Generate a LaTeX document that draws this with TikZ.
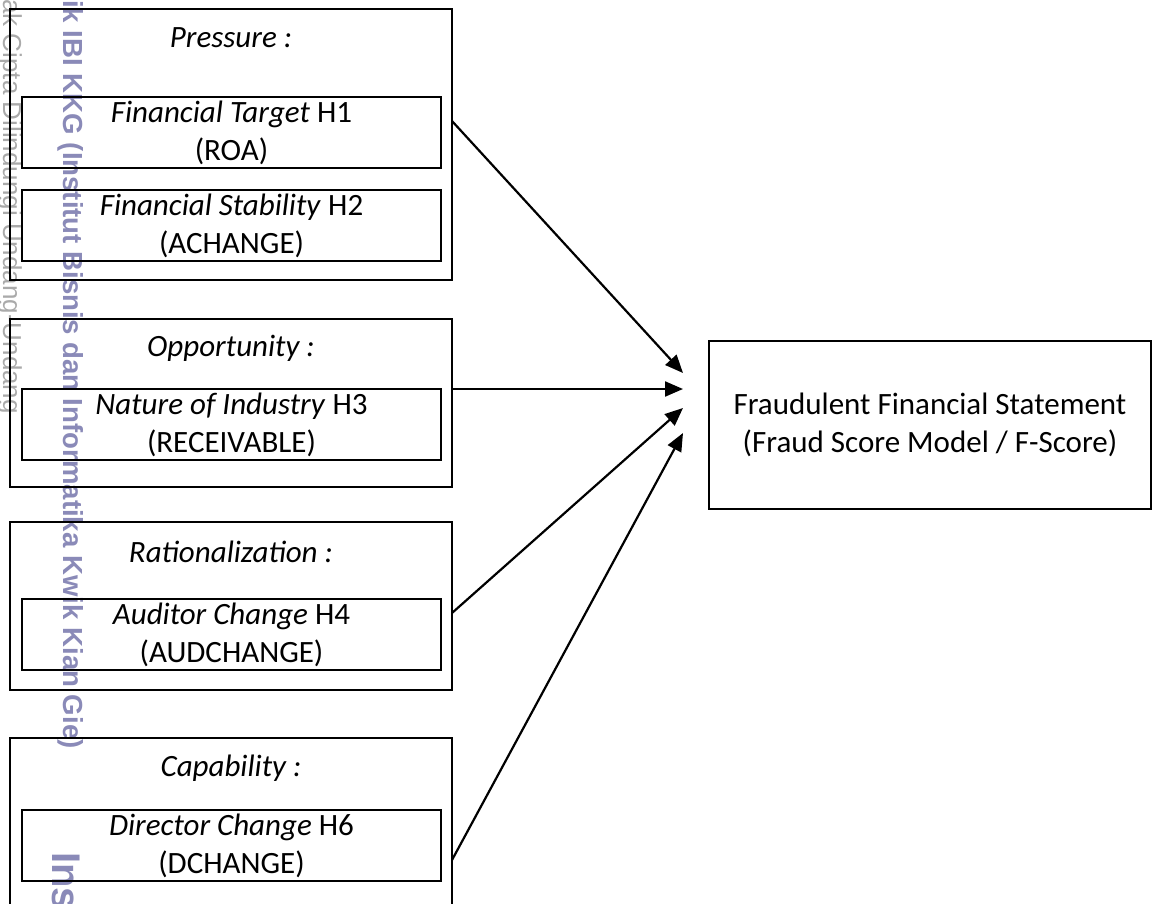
\documentclass[tikz,border=0pt]{standalone}
\usepackage{fontspec}
\setmainfont{Carlito}
\newfontfamily\wmfont{Liberation Sans}
\usetikzlibrary{arrows.meta}
\definecolor{wmpurple}{RGB}{138,138,184}
\definecolor{wmgray}{RGB}{170,170,170}
\begin{document}
\begin{tikzpicture}[x=1pt,y=-1pt,
  txt/.style={font=\fontsize{31}{38}\selectfont, align=center, inner sep=0pt},
  group/.style={draw, line width=2.1pt, rectangle, inner sep=0pt, outer sep=0pt,
    anchor=north west, minimum width=442},
  title/.style={txt, font=\fontsize{31}{38}\selectfont\itshape},
  item/.style={txt, draw, line width=2.1pt, rectangle, outer sep=0pt,
    anchor=north west, minimum width=419, minimum height=71},
  result/.style={txt, draw, line width=2.1pt, rectangle, outer sep=0pt,
    anchor=north west, minimum width=442, minimum height=168},
  link/.style={line width=2.2pt, -{Triangle[length=18pt,width=15pt]}},
  wm/.style={rotate=-90, anchor=base west, inner sep=0pt}]

\useasboundingbox (0,0) rectangle (1152,903);
\fill[white] (0,0) rectangle (1152,903);
\clip (0,0) rectangle (1152,903);

% watermark along the left margin
\node[wm, text=wmgray, font=\wmfont\fontsize{26}{30}\selectfont] (wm1) at (3,-1) {ak Cipta Dilindungi Undang-Undang};
\node[wm, text=wmpurple, font=\wmfont\bfseries\fontsize{27.6}{30}\selectfont] (wm2) at (63,0) {ik IBI KKG (Institut Bisnis dan Informatika Kwik Kian Gie)};
\node[wm, text=wmpurple, font=\wmfont\bfseries\fontsize{40}{44}\selectfont] (wm3) at (52,852) {Ins};

% Pressure
\node[group, minimum height=271] (P) at (10,9) {};
\node[title] (Pt) at (231,38) {Pressure :};
\node[item] (h1) at (22,97) {\textit{Financial Target} H1\\(ROA)};
\node[item] (h2) at (22,190) {\textit{Financial Stability} H2\\(ACHANGE)};

% Opportunity
\node[group, minimum height=168] (O) at (10,319) {};
\node[title] (Ot) at (231,348) {Opportunity :};
\node[item] (h3) at (22,389) {\textit{Nature of Industry} H3\\(RECEIVABLE)};

% Rationalization
\node[group, minimum height=168] (R) at (10,522) {};
\node[title] (Rt) at (231,552) {Rationalization :};
\node[item] (h4) at (22,599) {\textit{Auditor Change} H4\\(AUDCHANGE)};

% Capability
\node[group, minimum height=220] (C) at (10,738) {};
\node[title] (Ct) at (231,768) {Capability :};
\node[item] (h6) at (22,810) {\textit{Director Change} H6\\(DCHANGE)};

% dependent variable
\node[result] (F) at (709,341) {Fraudulent Financial Statement\\(Fraud Score Model / F-Score)};

% arrow end points
\coordinate (s1) at ([yshift=-112pt]P.north east);
\coordinate (s2) at ([yshift=-70pt]O.north east);
\coordinate (s3) at ([yshift=-91pt]R.north east);
\coordinate (s4) at ([yshift=-122pt]C.north east);
\coordinate (t1) at ([xshift=-26pt,yshift=52pt]F.west);
\coordinate (t2) at ([xshift=-26pt,yshift=36pt]F.west);
\coordinate (t3) at ([xshift=-26pt,yshift=17pt]F.west);
\coordinate (t4) at ([xshift=-26pt,yshift=-8pt]F.west);

\draw[link] (s1) -- (t1);
\draw[link] (s2) -- (t2);
\draw[link] (s3) -- (t3);
\draw[link] (s4) -- (t4);
\end{tikzpicture}
\end{document}
